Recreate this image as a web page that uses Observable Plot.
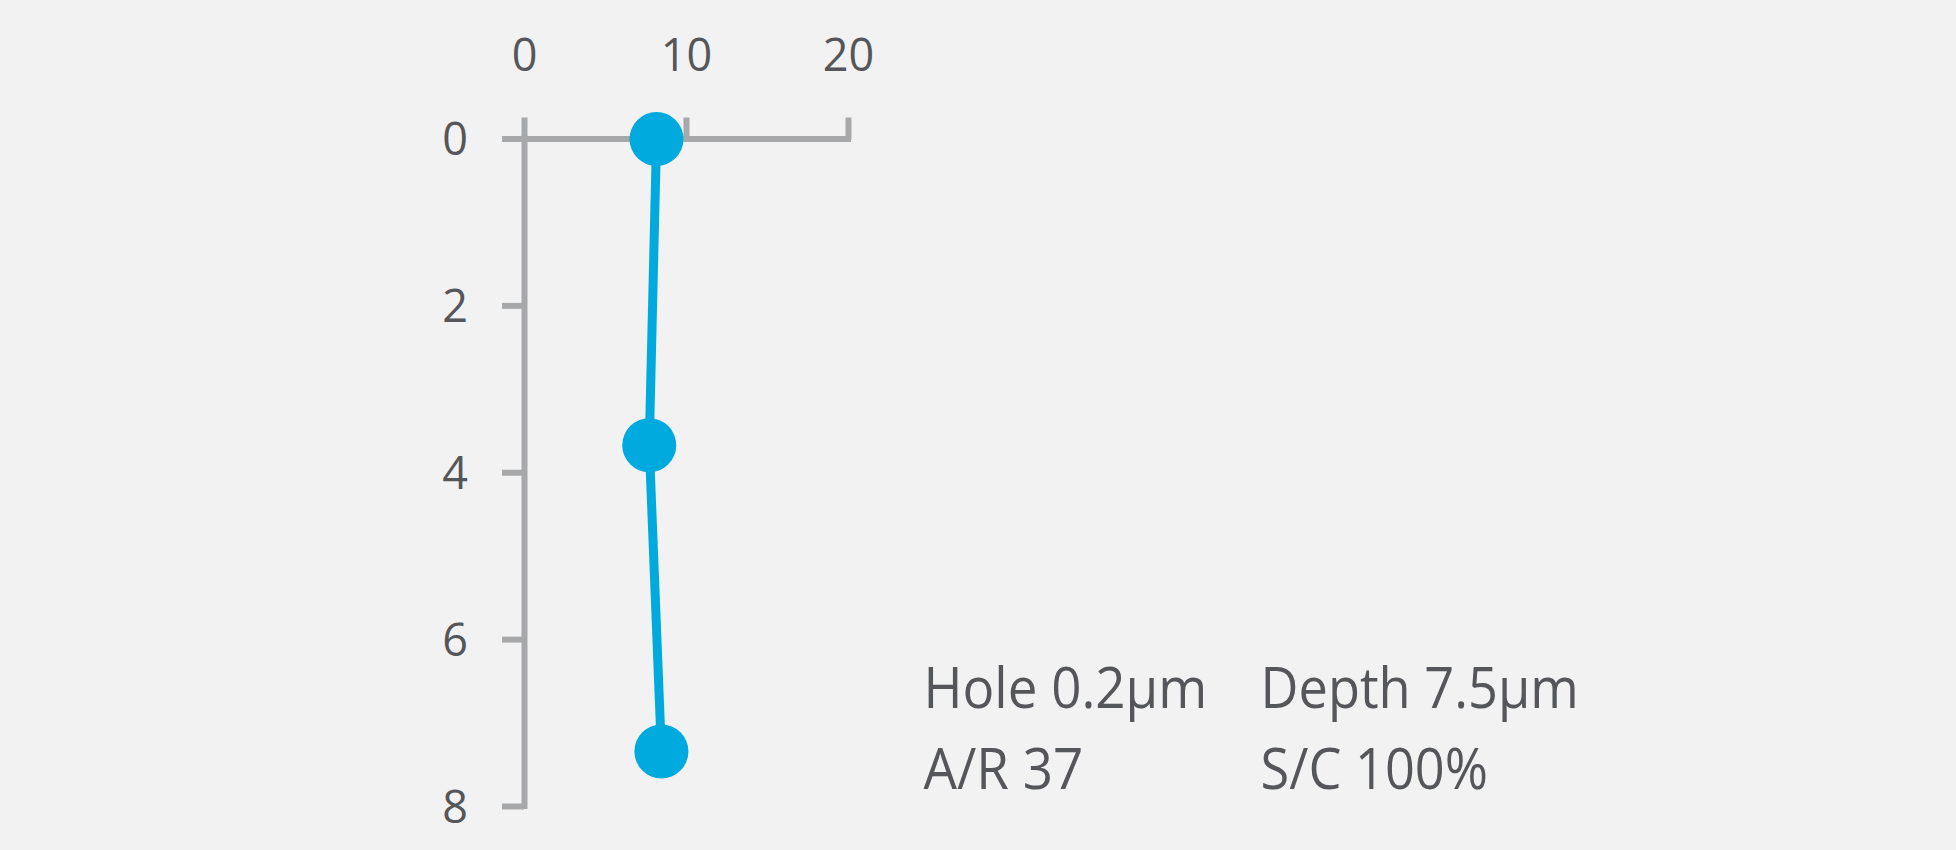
<!DOCTYPE html>
<html>
<head>
<meta charset="utf-8">
<script src="https://cdn.jsdelivr.net/npm/d3@7"></script>
<script src="https://cdn.jsdelivr.net/npm/@observablehq/plot@0.6"></script>
<style>
  html, body { margin: 0; padding: 0; background: #f2f2f2; }
  #chart svg { display: block; }
</style>
</head>
<body>
<div id="chart"></div>
<script>
// Data
const widths = [8.15, 7.7, 8.45];       // x value (top axis)
const depths = [0, 3.67, 7.34];          // y value (left axis, downward)
const xTicks = [0, 10, 20];
const yTicks = [0, 2, 4, 6, 8];
const infoCol1 = ["Hole 0.2µm", "A/R 37"];
const infoCol2 = ["Depth 7.5µm", "S/C 100%"];

const points = widths.map((w, i) => ({w, d: depths[i]}));

const axisColor = "#a7a8aa";
const textColor = "#55565a";
const blue = "#00aadf";
const font = "'Open Sans', sans-serif";

const chart = Plot.plot({
  width: 1956,
  height: 850,
  marginLeft: 524,
  marginRight: 1108,
  marginTop: 138.5,
  marginBottom: 44,
  x: {domain: [0, 20], axis: null},
  y: {domain: [0, 8], reverse: true, axis: null},
  style: {background: "#f2f2f2", fontFamily: font},
  marks: [
    // axis lines
    Plot.ruleY([0], {x1: 0, x2: 20, stroke: axisColor, strokeWidth: 6, strokeLinecap: "square"}),
    Plot.ruleX([0], {y1: 0, y2: 8, stroke: axisColor, strokeWidth: 6, strokeLinecap: "square"}),
    // ticks
    Plot.axisX({anchor: "top", ticks: xTicks, tickSize: 22, text: null, label: null, stroke: axisColor, strokeWidth: 6}),
    Plot.axisY({anchor: "left", ticks: yTicks, tickSize: 22, text: null, label: null, stroke: axisColor, strokeWidth: 6}),
    // tick labels
    Plot.text(xTicks, {x: d => d, frameAnchor: "top", dy: -82, lineAnchor: "middle", text: d => String(d),
      fill: textColor, fontSize: 45, fontFamily: font}),
    Plot.text(yTicks, {y: d => d, frameAnchor: "left", dx: -56.5, dy: 2, textAnchor: "end", lineAnchor: "middle", text: d => String(d),
      fill: textColor, fontSize: 45, fontFamily: font}),
    // profile
    Plot.line(points, {x: "w", y: "d", stroke: blue, strokeWidth: 9}),
    Plot.dot(points, {x: "w", y: "d", r: 27, fill: blue, stroke: "none"}),
    // info text
    Plot.text([infoCol1.join("\n")], {frameAnchor: "top-left", dx: 399, dy: 583.5, lineAnchor: "middle", lineHeight: 1.446,
      textAnchor: "start", fill: textColor, fontSize: 56, fontFamily: font}),
    Plot.text([infoCol2.join("\n")], {frameAnchor: "top-left", dx: 736, dy: 583.5, lineAnchor: "middle", lineHeight: 1.446,
      textAnchor: "start", fill: textColor, fontSize: 56, fontFamily: font})
  ]
});
document.getElementById("chart").appendChild(chart);

// slightly condense the info text to mimic the narrower typeface of the reference
const textGroups = chart.querySelectorAll('g[aria-label="text"]');
const squeeze = [1, 1, 0.945, 0.935];
textGroups.forEach((g, i) => {
  if (squeeze[i] === 1) return;
  g.querySelectorAll("text").forEach(t => {
    const tr = t.getAttribute("transform") || "";
    t.setAttribute("transform", tr + ` scale(${squeeze[i]},1)`);
  });
});
</script>
</body>
</html>
